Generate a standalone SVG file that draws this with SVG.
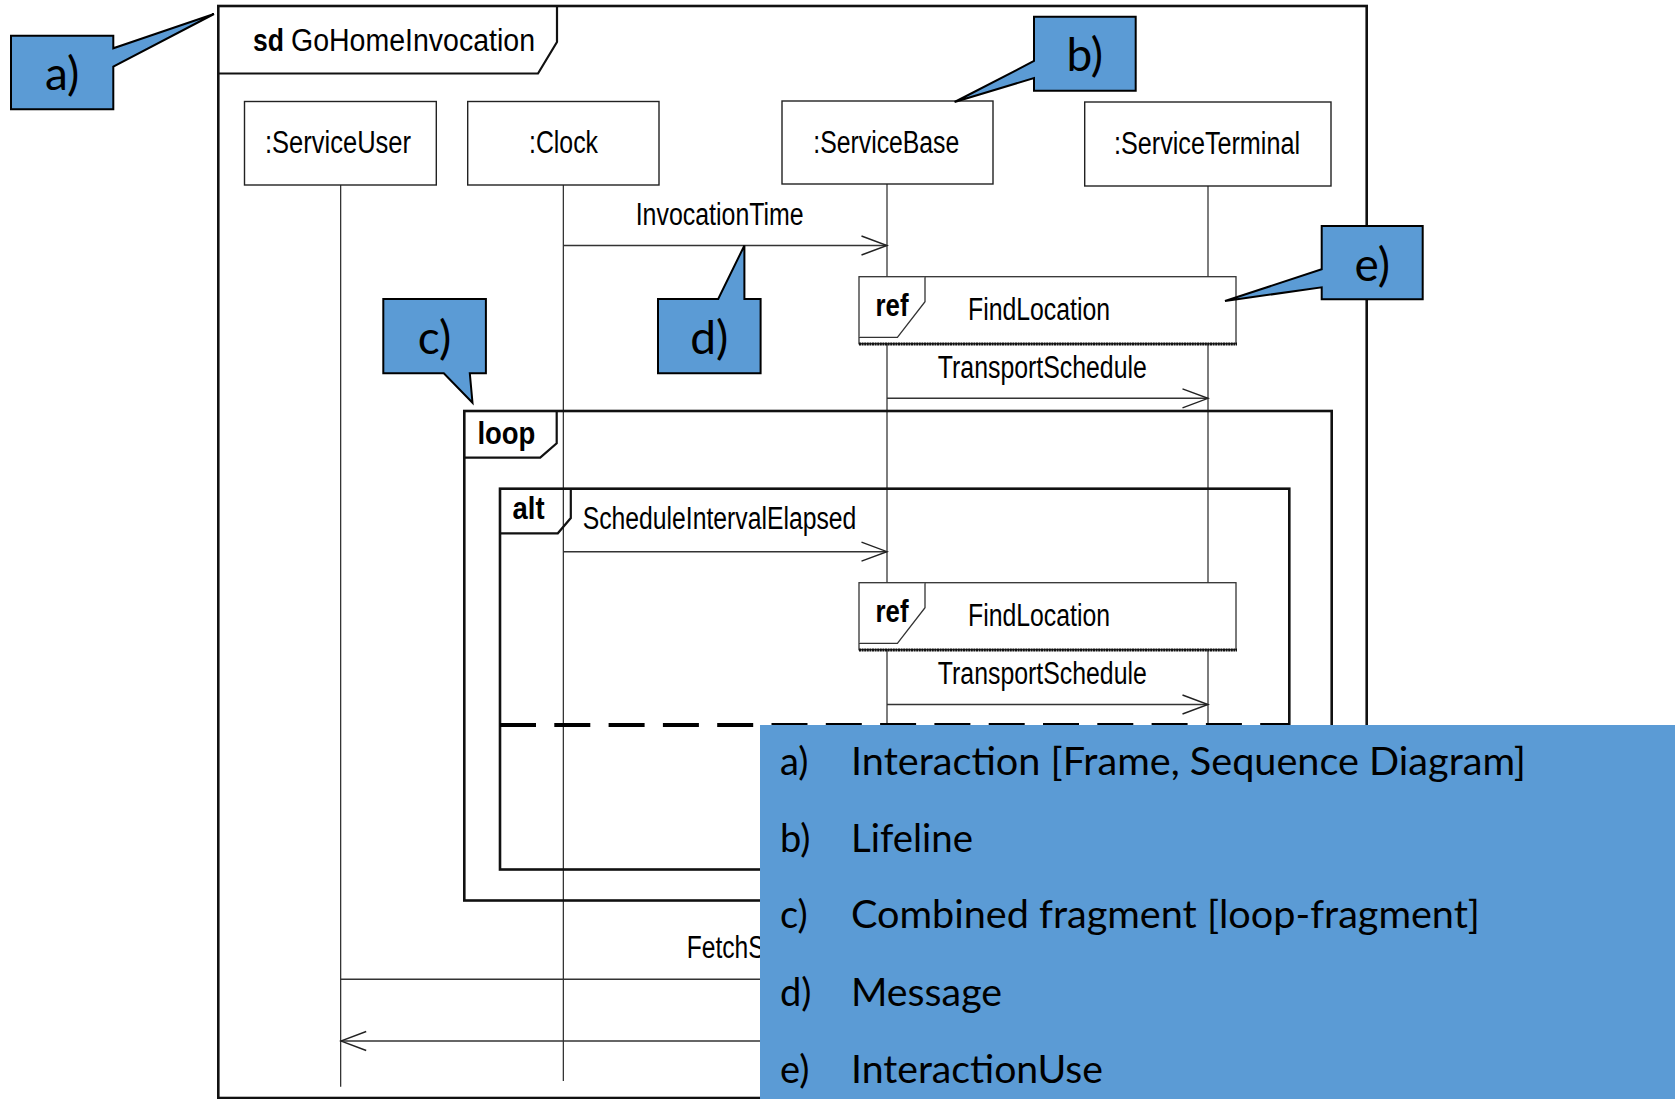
<svg xmlns="http://www.w3.org/2000/svg" width="1675" height="1099" viewBox="0 0 1675 1099">
  <defs>
    <marker id="open" viewBox="0 0 28 22" refX="26.5" refY="11" markerWidth="28" markerHeight="22" markerUnits="userSpaceOnUse" orient="auto">
      <path d="M1,1.5 L26.5,11 L1,20.5" fill="none" stroke="#222" stroke-width="1.4"/>
    </marker>
    <style>
      .frame { fill: none; stroke: #111; stroke-width: 2.6; }
      .tab { fill: none; stroke: #111; stroke-width: 2.2; }
      .head { fill: #fff; stroke: #222; stroke-width: 1.4; }
      .life { stroke: #111; stroke-width: 1.1; fill: none; }
      .msg { stroke: #333; stroke-width: 1.5; fill: none; marker-end: url(#open); }
      .refbox { fill: #fff; stroke: #333; stroke-width: 1.3; }
      .refbase { stroke: #111; stroke-width: 3; stroke-dasharray: 2 0.6; }
      .sep { stroke: #000; stroke-width: 4; stroke-dasharray: 36 18.3; fill: none; }
      .note { fill: #5b9bd5; stroke: #000; stroke-width: 2; stroke-linejoin: miter; }
      .uml { font-family: "Liberation Sans", Arial, sans-serif; font-size: 31px; fill: #000; }
      .kw { font-weight: bold; }
      .cal { font-family: Lato, "Open Sans", sans-serif; fill: #000; }
      .tag { font-size: 46px; text-anchor: middle; }
      .leg { font-size: 38px; }
    </style>
  </defs>

  <rect width="1675" height="1099" fill="#fff"/>

  <!-- interaction frame -->
  <g id="frame-gohome">
    <rect class="frame" x="218.3" y="6" width="1148.4" height="1092"/>
    <path class="tab" d="M218.3,73.5 H538 L557,42 V6"/>
    <text class="uml kw" x="253" y="51" font-size="33" textLength="31" lengthAdjust="spacingAndGlyphs">sd</text>
    <text class="uml" x="291" y="51" font-size="33" textLength="244" lengthAdjust="spacingAndGlyphs">GoHomeInvocation</text>
  </g>

  <!-- lifelines -->
  <g id="lifeline-serviceuser">
    <line class="life" x1="340.7" y1="185" x2="340.7" y2="1086.7"/>
    <rect class="head" x="244.5" y="101.5" width="191.8" height="83.5"/>
    <text class="uml" x="265" y="153" textLength="146" lengthAdjust="spacingAndGlyphs">:ServiceUser</text>
  </g>
  <g id="lifeline-clock">
    <line class="life" x1="563.3" y1="185" x2="563.3" y2="1081"/>
    <rect class="head" x="467.7" y="101.5" width="191.3" height="83.5"/>
    <text class="uml" x="529" y="153" textLength="69" lengthAdjust="spacingAndGlyphs">:Clock</text>
  </g>
  <g id="lifeline-servicebase">
    <line class="life" x1="887" y1="184" x2="887" y2="1099"/>
    <rect class="head" x="782" y="101" width="211" height="83"/>
    <text class="uml" x="813.3" y="153" textLength="146" lengthAdjust="spacingAndGlyphs">:ServiceBase</text>
  </g>
  <g id="lifeline-serviceterminal">
    <line class="life" x1="1208" y1="186" x2="1208" y2="1099"/>
    <rect class="head" x="1084.7" y="102" width="246.3" height="84"/>
    <text class="uml" x="1114" y="154" textLength="186" lengthAdjust="spacingAndGlyphs">:ServiceTerminal</text>
  </g>

  <!-- combined fragments -->
  <g id="fragment-loop">
    <rect class="frame" x="464.3" y="411" width="867.4" height="489.5"/>
    <path class="tab" d="M464.3,457.7 H540.2 L556.7,443.3 V411"/>
    <text class="uml kw" x="477.4" y="444" font-size="33" textLength="58" lengthAdjust="spacingAndGlyphs">loop</text>
  </g>
  <g id="fragment-alt">
    <rect class="frame" x="500" y="488.7" width="789.3" height="380.8"/>
    <path class="tab" d="M500,533.3 H557.8 L570.8,518 V488.7"/>
    <text class="uml kw" x="512.6" y="519" font-size="33" textLength="32" lengthAdjust="spacingAndGlyphs">alt</text>
    <line class="sep" x1="500" y1="725" x2="1289.3" y2="725"/>
  </g>

  <!-- messages -->
  <g id="messages">
    <line class="msg" x1="563.3" y1="245.5" x2="887" y2="245.5"/>
    <text class="uml" x="635.7" y="225" font-size="30" textLength="168" lengthAdjust="spacingAndGlyphs">InvocationTime</text>

    <line class="msg" x1="887" y1="398.3" x2="1208" y2="398.3"/>
    <text class="uml" x="937.8" y="378" font-size="30" textLength="209" lengthAdjust="spacingAndGlyphs">TransportSchedule</text>

    <line class="msg" x1="563.3" y1="551.7" x2="887" y2="551.7"/>
    <text class="uml" x="582.7" y="529" font-size="30" textLength="273.6" lengthAdjust="spacingAndGlyphs">ScheduleIntervalElapsed</text>

    <line class="msg" x1="887" y1="704.5" x2="1208" y2="704.5"/>
    <text class="uml" x="937.8" y="684" font-size="30" textLength="209" lengthAdjust="spacingAndGlyphs">TransportSchedule</text>

    <line class="msg" x1="340.7" y1="979.3" x2="887" y2="979.3"/>
    <text class="uml" x="686.7" y="958" font-size="30" textLength="78" lengthAdjust="spacingAndGlyphs">FetchS</text>

    <line class="msg" x1="887" y1="1041" x2="340.7" y2="1041"/>
  </g>

  <!-- interaction uses -->
  <g id="ref-findlocation-1">
    <rect class="refbox" x="859" y="276.7" width="377" height="67"/>
    <line class="refbase" x1="859" y1="344" x2="1237" y2="344"/>
    <path class="refbox" fill="none" d="M859,337.3 H897.4 L925,301.7 V276.7"/>
    <text class="uml kw" x="875.5" y="315.5" font-size="30" textLength="33" lengthAdjust="spacingAndGlyphs">ref</text>
    <text class="uml" x="968" y="320" font-size="30" textLength="142" lengthAdjust="spacingAndGlyphs">FindLocation</text>
  </g>
  <g id="ref-findlocation-2">
    <rect class="refbox" x="859" y="582.7" width="377" height="67"/>
    <line class="refbase" x1="859" y1="650" x2="1237" y2="650"/>
    <path class="refbox" fill="none" d="M859,643.3 H897.4 L925,607.7 V582.7"/>
    <text class="uml kw" x="875.5" y="621.5" font-size="30" textLength="33" lengthAdjust="spacingAndGlyphs">ref</text>
    <text class="uml" x="968" y="626" font-size="30" textLength="142" lengthAdjust="spacingAndGlyphs">FindLocation</text>
  </g>

  <!-- callouts -->
  <g id="callout-a">
    <path class="note" d="M11,35.7 H113.3 V48.3 L214,14 L113.3,66.7 V109.3 H11 Z"/>
    <text class="cal tag" x="62.2" y="90">a)</text>
  </g>
  <g id="callout-b">
    <path class="note" d="M1034,16.7 H1135.7 V90.7 H1034 V78 L954.6,102 L1034,61 Z"/>
    <text class="cal tag" x="1084.8" y="71">b)</text>
  </g>
  <g id="callout-c">
    <path class="note" d="M383.3,299 H485.9 V373.3 H469.8 L472.5,402.7 L443.8,373.3 H383.3 Z"/>
    <text class="cal tag" x="434.6" y="353.5">c)</text>
  </g>
  <g id="callout-d">
    <path class="note" d="M658,299 H718.2 L744.4,245.5 V299 H760.6 V373.3 H658 Z"/>
    <text class="cal tag" x="709.3" y="353.5">d)</text>
  </g>
  <g id="callout-e">
    <path class="note" d="M1321.7,226 H1422.7 V299.3 H1321.7 V287.3 L1225,301 L1321.7,269.3 Z"/>
    <text class="cal tag" x="1372.2" y="281">e)</text>
  </g>

  <!-- legend -->
  <g id="legend">
    <rect x="760" y="725" width="915" height="374" fill="#5b9bd5"/>
    <text class="cal leg" x="780" y="775">a)</text>
    <text class="cal leg" x="851" y="775" textLength="675" lengthAdjust="spacingAndGlyphs">Interaction [Frame, Sequence Diagram]</text>
    <text class="cal leg" x="780" y="851.7">b)</text>
    <text class="cal leg" x="851" y="851.7" textLength="122" lengthAdjust="spacingAndGlyphs">Lifeline</text>
    <text class="cal leg" x="780" y="928.3">c)</text>
    <text class="cal leg" x="851" y="928.3" textLength="629" lengthAdjust="spacingAndGlyphs">Combined fragment [loop-fragment]</text>
    <text class="cal leg" x="780" y="1006">d)</text>
    <text class="cal leg" x="851" y="1006" textLength="151" lengthAdjust="spacingAndGlyphs">Message</text>
    <text class="cal leg" x="780" y="1082.7">e)</text>
    <text class="cal leg" x="851" y="1082.7" textLength="252" lengthAdjust="spacingAndGlyphs">InteractionUse</text>
  </g>
</svg>
